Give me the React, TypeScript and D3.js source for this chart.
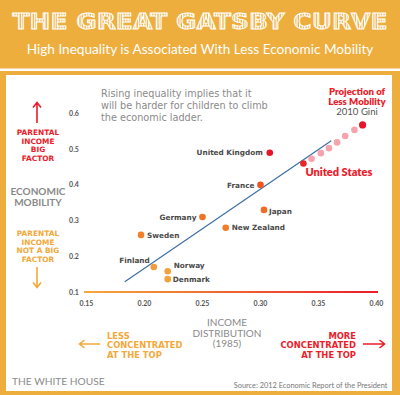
import * as d3 from "d3";
import React from "react";

// chart values
const countries = ["United Kingdom", "France", "Japan", "New Zealand", "Germany", "Sweden", "Finland", "Norway", "Denmark", "United States"];
const gini1985 = [0.308, 0.3, 0.303, 0.27, 0.25, 0.197, 0.208, 0.22, 0.22, 0.337];
const mobility = [0.49, 0.4, 0.33, 0.28, 0.31, 0.26, 0.17, 0.158, 0.136, 0.46];

// projected points (2010 Gini)
const projGini = [0.344, 0.352, 0.359, 0.366, 0.373, 0.381, 0.388];
const projMobility = [0.473, 0.489, 0.503, 0.519, 0.537, 0.554, 0.568];

// fitted line end points
const trendGini = [0.183, 0.361];
const trendMobility = [0.129, 0.524];

const xTicks = [0.15, 0.2, 0.25, 0.3, 0.35, 0.4];
const yTicks = [0.1, 0.2, 0.3, 0.4, 0.5, 0.6];

// where each country label sits next to its dot
const labelPlace: Record<string, { dx: number; dy: number; anchor: string }> = {
  "United Kingdom": { dx: -7, dy: 0, anchor: "end" },
  France: { dx: -6, dy: 0, anchor: "end" },
  Japan: { dx: 5, dy: 1, anchor: "start" },
  "New Zealand": { dx: 6, dy: 0, anchor: "start" },
  Germany: { dx: -6, dy: 0, anchor: "end" },
  Sweden: { dx: 6, dy: 0, anchor: "start" },
  Finland: { dx: -4, dy: -7, anchor: "end" },
  Norway: { dx: 6, dy: -6, anchor: "start" },
  Denmark: { dx: 5, dy: 0, anchor: "start" },
};

const ORANGE = "#EDAE3E";
const LIGHT_ORANGE = "#F2A93B";
const RED = "#EC1C2A";
const GRAY = "#8a8a8a";
const FONT = "Lato, 'Open Sans', sans-serif";
const WIDE = "'DejaVu Sans', sans-serif";

const App = () => {
  const width = 400;
  const height = 395;

  const x = d3.scaleLinear().domain([0.15, 0.4]).range([86.5, 376.5]);
  const y = d3.scaleLinear().domain([0.1, 0.6]).range([292, 113.5]);

  // dot colour follows the vertical gradient (orange low, red high)
  const color = d3
    .scaleLinear<string>()
    .domain([0.15, 0.28, 0.4, 0.48])
    .range(["#F2A23A", "#F07B28", "#EE5522", "#E8142A"])
    .clamp(true);

  const line = d3
    .line<number>()
    .x((d) => x(d))
    .y((_, i) => y(trendMobility[i]));

  const projColor = (i: number) => (i === projGini.length - 1 ? "#E8142A" : "#F5A3AC");

  return (
    <svg width={width} height={height} style={{ position: "absolute", left: 0, top: 0 }} fontFamily={FONT}>
      <defs>
        <pattern id="stripes" patternUnits="userSpaceOnUse" width="2.6" height="4">
          <rect width="2.6" height="4" fill={ORANGE} />
          <rect width="1.3" height="4" fill="#fff" />
        </pattern>
        <linearGradient id="vgrad" x1="0" y1="1" x2="0" y2="0">
          <stop offset="0" stopColor={LIGHT_ORANGE} />
          <stop offset="1" stopColor={RED} />
        </linearGradient>
        <linearGradient id="hgrad" x1="0" y1="0" x2="1" y2="0">
          <stop offset="0" stopColor={LIGHT_ORANGE} />
          <stop offset="1" stopColor={RED} />
        </linearGradient>
      </defs>

      {/* frame and header */}
      <rect width={width} height={height} fill={ORANGE} />
      <rect x={0} y={68.5} width={width} height={2.5} fill="#fff" />
      <rect x={6} y={75} width={386} height={316} fill="#fff" />

      <text
        x={200}
        y={29}
        textAnchor="middle"
        fontSize={22}
        fontWeight={900}
        fontFamily={WIDE}
        textLength={375}
        lengthAdjust="spacingAndGlyphs"
        fill="url(#stripes)"
        stroke="#fff"
        strokeWidth={0.9}
      >
        THE GREAT GATSBY CURVE
      </text>
      <text x={200} y={54} textAnchor="middle" fontSize={13.6} fill="#fff">
        High Inequality is Associated With Less Economic Mobility
      </text>

      {/* annotation */}
      <g fontSize={9.7} fill={GRAY} fontFamily={WIDE}>
        <text x={101} y={97}>Rising inequality implies that it</text>
        <text x={101} y={109.2}>will be harder for children to climb</text>
        <text x={101} y={121.4}>the economic ladder.</text>
      </g>

      {/* left side labels */}
      <g fill="none" strokeWidth={1.6}>
        <path d="M37,123V103M33,107.5L37,102.5L41,107.5" stroke={RED} />
        <path d="M37,267V287M33,282.5L37,287.5L41,282.5" stroke={LIGHT_ORANGE} />
      </g>
      <g textAnchor="middle" fontWeight={700} fontSize={7.4} fontFamily={WIDE}>
        {["PARENTAL", "INCOME", "BIG", "FACTOR"].map((t, i) => (
          <text key={t} x={38} y={135 + i * 8.5} fill={RED}>{t}</text>
        ))}
        {["PARENTAL", "INCOME", "NOT A BIG", "FACTOR"].map((t, i) => (
          <text key={t} x={38} y={236 + i * 8.5} fill={LIGHT_ORANGE}>{t}</text>
        ))}
      </g>
      <g textAnchor="middle" fontWeight={700} fontSize={10}>
        {["ECONOMIC", "MOBILITY"].map((t, i) => (
          <text key={t} x={38} y={194.5 + i * 11} fill={GRAY}>{t}</text>
        ))}
      </g>

      {/* axes */}
      <line x1={85} x2={85} y1={109} y2={292} stroke="url(#vgrad)" strokeWidth={2} />
      <rect x={84} y={291} width={294} height={2} fill="url(#hgrad)" />
      <g fontSize={7} fontWeight={700} fill="#555">
        {yTicks.map((t) => (
          <text key={t} x={74} y={y(t) + 2.5} textAnchor="middle">{d3.format(".1f")(t)}</text>
        ))}
        {xTicks.map((t) => (
          <text key={t} x={x(t)} y={306} textAnchor="middle">{d3.format(".2f")(t)}</text>
        ))}
      </g>

      {/* trend line */}
      <path d={line(trendGini) || ""} fill="none" stroke="#3D6FA6" strokeWidth={1.2} />

      {/* projection */}
      {projGini.map((g, i) => (
        <circle key={i} cx={x(g)} cy={y(projMobility[i])} r={i === projGini.length - 1 ? 3.6 : 3.3} fill={projColor(i)} />
      ))}
      <g textAnchor="middle" fontSize={9.6} fontWeight={800} fill={RED}>
        <text x={357} y={95}>Projection of</text>
        <text x={357} y={104.5}>Less Mobility</text>
        <text x={357} y={114.5} fontWeight={400} fill="#555">2010 Gini</text>
      </g>

      {/* countries */}
      {countries.map((c, i) => (
        <circle key={c} cx={x(gini1985[i])} cy={y(mobility[i])} r={3.3} fill={color(mobility[i])} />
      ))}
      <g fontSize={7.3} fontWeight={700} fill="#4a4a4a" fontFamily={WIDE}>
        {countries.map((c, i) => {
          const p = labelPlace[c];
          if (!p) return null;
          return (
            <text key={c} x={x(gini1985[i]) + p.dx} y={y(mobility[i]) + p.dy + 2.7} textAnchor={p.anchor}>
              {c}
            </text>
          );
        })}
      </g>
      <text x={x(gini1985[9]) + 2} y={y(mobility[9]) + 12.5} fontSize={11} fontWeight={800} fill={RED}>
        United States
      </text>

      {/* bottom labels */}
      <g textAnchor="middle" fontSize={10} fill={GRAY}>
        <text x={227} y={326}>INCOME</text>
        <text x={227} y={336.5}>DISTRIBUTION</text>
        <text x={227} y={347}>(1985)</text>
      </g>
      <g fontSize={8.4} fontWeight={700} fontFamily={WIDE}>
        {["LESS", "CONCENTRATED", "AT THE TOP"].map((t, i) => (
          <text key={t} x={107} y={338.5 + i * 9.8} fill={LIGHT_ORANGE}>{t}</text>
        ))}
        {["MORE", "CONCENTRATED", "AT THE TOP"].map((t, i) => (
          <text key={t} x={356} y={338.5 + i * 9.8} fill={RED} textAnchor="end">{t}</text>
        ))}
      </g>
      <g fill="none" strokeWidth={1.6}>
        <path d="M100,344H80M84.5,340L79.5,344L84.5,348" stroke={LIGHT_ORANGE} />
        <path d="M363,344H384M379.5,340L384.5,344L379.5,348" stroke={RED} />
      </g>

      <text x={12} y={385} fontSize={10.2} fill={GRAY}>THE WHITE HOUSE</text>
      <text x={387.5} y={387.5} fontSize={7.4} fill="#777" textAnchor="end">
        Source: 2012 Economic Report of the President
      </text>
    </svg>
  );
};

export default App;
